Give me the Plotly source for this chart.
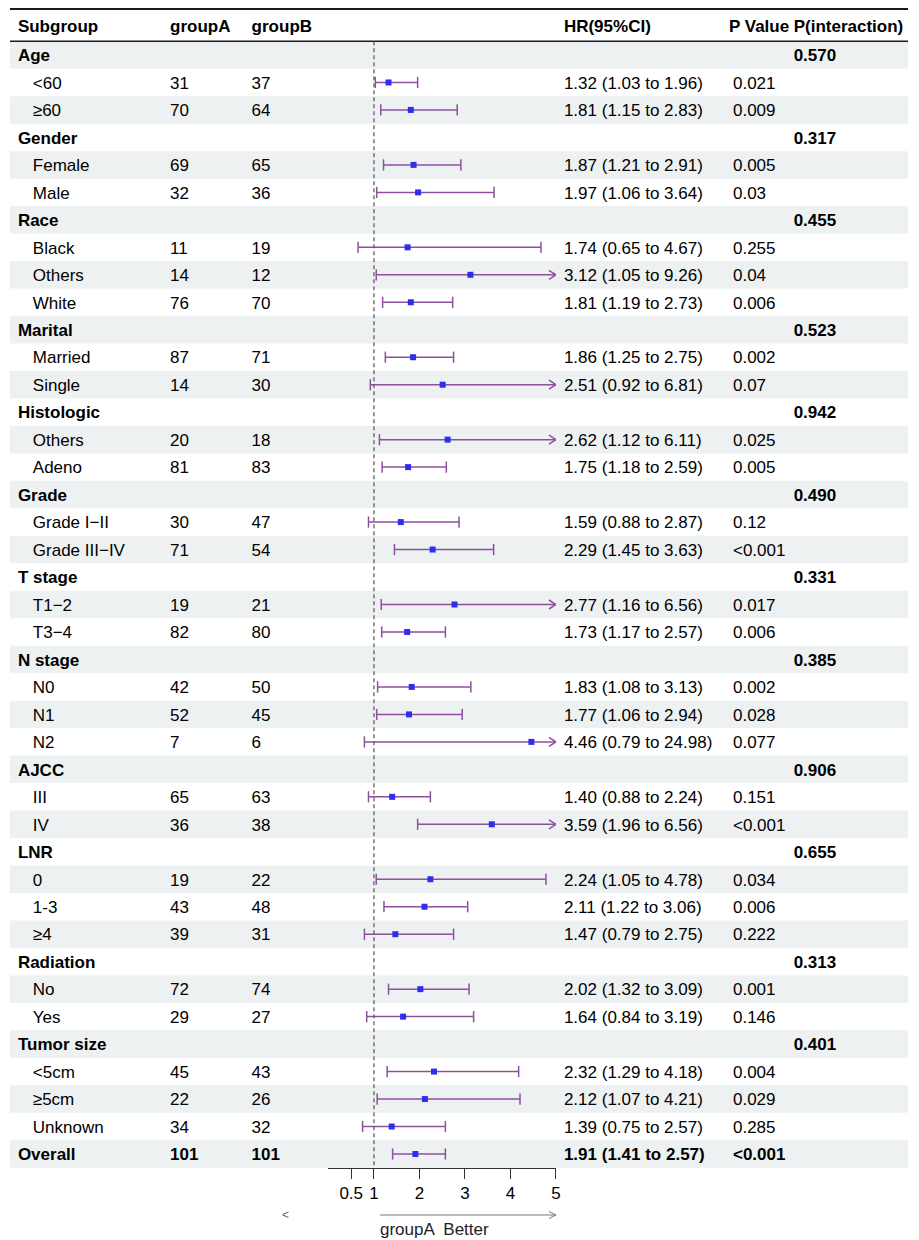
import plotly.graph_objects as go

# ---------------- data ----------------
subgroups = ["Age", "<60", "≥60", "Gender", "Female", "Male", "Race", "Black", "Others", "White",
             "Marital", "Married", "Single", "Histologic", "Others", "Adeno", "Grade", "Grade I−II",
             "Grade III−IV", "T stage", "T1−2", "T3−4", "N stage", "N0", "N1", "N2", "AJCC", "III",
             "IV", "LNR", "0", "1-3", "≥4", "Radiation", "No", "Yes", "Tumor size", "<5cm", "≥5cm",
             "Unknown", "Overall"]
groupA = [None, 31, 70, None, 69, 32, None, 11, 14, 76, None, 87, 14, None, 20, 81, None, 30, 71,
          None, 19, 82, None, 42, 52, 7, None, 65, 36, None, 19, 43, 39, None, 72, 29, None, 45, 22,
          34, 101]
groupB = [None, 37, 64, None, 65, 36, None, 19, 12, 70, None, 71, 30, None, 18, 83, None, 47, 54,
          None, 21, 80, None, 50, 45, 6, None, 63, 38, None, 22, 48, 31, None, 74, 27, None, 43, 26,
          32, 101]
hr = [None, 1.32, 1.81, None, 1.87, 1.97, None, 1.74, 3.12, 1.81, None, 1.86, 2.51, None, 2.62, 1.75,
      None, 1.59, 2.29, None, 2.77, 1.73, None, 1.83, 1.77, 4.46, None, 1.40, 3.59, None, 2.24, 2.11,
      1.47, None, 2.02, 1.64, None, 2.32, 2.12, 1.39, 1.91]
lower = [None, 1.03, 1.15, None, 1.21, 1.06, None, 0.65, 1.05, 1.19, None, 1.25, 0.92, None, 1.12,
         1.18, None, 0.88, 1.45, None, 1.16, 1.17, None, 1.08, 1.06, 0.79, None, 0.88, 1.96, None,
         1.05, 1.22, 0.79, None, 1.32, 0.84, None, 1.29, 1.07, 0.75, 1.41]
upper = [None, 1.96, 2.83, None, 2.91, 3.64, None, 4.67, 9.26, 2.73, None, 2.75, 6.81, None, 6.11,
         2.59, None, 2.87, 3.63, None, 6.56, 2.57, None, 3.13, 2.94, 24.98, None, 2.24, 6.56, None,
         4.78, 3.06, 2.75, None, 3.09, 3.19, None, 4.18, 4.21, 2.57, 2.57]
pvalue = ["", "0.021", "0.009", "", "0.005", "0.03", "", "0.255", "0.04", "0.006", "", "0.002", "0.07",
          "", "0.025", "0.005", "", "0.12", "<0.001", "", "0.017", "0.006", "", "0.002", "0.028",
          "0.077", "", "0.151", "<0.001", "", "0.034", "0.006", "0.222", "", "0.001", "0.146", "",
          "0.004", "0.029", "0.285", "<0.001"]
p_interaction = ["0.570", "", "", "0.317", "", "", "0.455", "", "", "", "0.523", "", "", "0.942", "",
                 "", "0.490", "", "", "0.331", "", "", "0.385", "", "", "", "0.906", "", "", "0.655",
                 "", "", "", "0.313", "", "", "0.401", "", "", "", ""]
column_headers = ["Subgroup", "groupA", "groupB", "HR(95%CI)", "P Value", "P(interaction)"]
tick_values = [0.5, 1, 2, 3, 4, 5]
tick_labels = ["0.5", "1", "2", "3", "4", "5"]
x_max = 5
right_label = "groupA  Better"

# ---------------- style / layout (screen pixel targets) ----------------
W, H = 919, 1240
FONT = "Liberation Sans, Arial, Helvetica, sans-serif"
FS = 17
BAND = "#EEF1F2"
PURPLE = "#8E4F9F"
BLUE = "#2E2EF0"
ROW0_PX, ROW_H = 55.0, 27.475          # pixel centre of first row, row height
X0_PX, X5_PX = 330.25, 559.0           # forest axis pixel extent (0 .. 5)
col_px = [18, 171, 253, 567, 737, 798]
header_px = [18, 171, 253, 567, 733, 798]
indent_px = 33
table_left, table_right = 10, 913
TEXT_DY = 2.0                           # text sits slightly below row centre

n = len(subgroups)
rows = list(range(n))


def row_of(px):
    return (px - ROW0_PX) / ROW_H


def paper_x(px):
    return px / W


is_header = [a is None for a in groupA]
is_bold = [h or i == n - 1 for i, h in enumerate(is_header)]


def fmt(s, bold):
    return f"<b>{s}</b>" if bold else s


fig = go.Figure()

# background bands
shapes = []
for r in rows:
    if r % 2 == 0:
        shapes.append(dict(type="rect", xref="paper", yref="y", x0=paper_x(table_left),
                           x1=paper_x(table_right), y0=r - 0.5, y1=r + 0.5, fillcolor=BAND,
                           line=dict(width=0), layer="below"))
# top rule and header rule
shapes.append(dict(type="line", xref="paper", yref="y", x0=paper_x(table_left),
                   x1=paper_x(table_right), y0=row_of(9), y1=row_of(9),
                   line=dict(color="#1a1a1a", width=2)))
shapes.append(dict(type="line", xref="paper", yref="y", x0=paper_x(table_left),
                   x1=paper_x(table_right), y0=-0.5, y1=-0.5, line=dict(color="#1a1a1a", width=1.5)))
# reference line at HR = 1
shapes.append(dict(type="line", xref="x", yref="y", x0=1, x1=1, y0=-0.5, y1=n - 0.5,
                   line=dict(color="#555555", width=1.2, dash="4px,3px")))

# ---------------- table text ----------------
ty = TEXT_DY / ROW_H
header_y = row_of(25.5) + ty
fig.add_trace(go.Scatter(
    x=header_px, y=[header_y] * len(column_headers), xaxis="x2", yaxis="y",
    mode="text", text=[f"<b>{h}</b>" for h in column_headers], textposition="middle right",
    textfont=dict(family=FONT, size=FS, color="#000"), hoverinfo="skip", showlegend=False,
    cliponaxis=False))

col_texts = [
    [fmt(s, is_bold[i]) for i, s in enumerate(subgroups)],
    [fmt(str(v), is_bold[i]) if v is not None else "" for i, v in enumerate(groupA)],
    [fmt(str(v), is_bold[i]) if v is not None else "" for i, v in enumerate(groupB)],
    [fmt(f"{hr[i]:.2f} ({lower[i]:.2f} to {upper[i]:.2f})", is_bold[i]) if hr[i] is not None else ""
     for i in rows],
    [fmt(p, is_bold[i]) for i, p in enumerate(pvalue)],
    [fmt(p, True) for p in p_interaction],
]
for c, texts in enumerate(col_texts):
    if c == 0:
        xs = [col_px[0] if is_bold[i] else indent_px for i in rows]
    else:
        xs = [col_px[c]] * n
    fig.add_trace(go.Scatter(
        x=xs, y=[r + ty for r in rows], xaxis="x2", yaxis="y", mode="text", text=texts,
        textposition="middle right", textfont=dict(family=FONT, size=FS, color="#000"),
        hoverinfo="skip", showlegend=False, cliponaxis=False))

# ---------------- forest marks ----------------
px_per_unit = (X5_PX - X0_PX) / x_max
dx_arrow = 7 / px_per_unit
dy_arrow = 4.5 / ROW_H

line_x, line_y, cap_x, cap_y, arr_x, arr_y = [], [], [], [], [], []
for r in rows:
    if hr[r] is None:
        continue
    hi = min(upper[r], x_max)
    line_x += [lower[r], hi, None]
    line_y += [r, r, None]
    cap_x.append(lower[r]); cap_y.append(r)
    if upper[r] <= x_max:
        cap_x.append(upper[r]); cap_y.append(r)
    else:
        arr_x += [x_max - dx_arrow, x_max, x_max - dx_arrow, None]
        arr_y += [r - dy_arrow, r, r + dy_arrow, None]

fig.add_trace(go.Scatter(x=line_x, y=line_y, mode="lines", line=dict(color=PURPLE, width=1.5),
                         hoverinfo="skip", showlegend=False, cliponaxis=False))
fig.add_trace(go.Scatter(x=arr_x, y=arr_y, mode="lines", line=dict(color=PURPLE, width=1.5),
                         hoverinfo="skip", showlegend=False, cliponaxis=False))
fig.add_trace(go.Scatter(x=cap_x, y=cap_y, mode="markers",
                         marker=dict(symbol="line-ns", size=8, line=dict(color=PURPLE, width=1.5)),
                         hoverinfo="skip", showlegend=False, cliponaxis=False))
fig.add_trace(go.Scatter(x=[hr[r] for r in rows if hr[r] is not None],
                         y=[r for r in rows if hr[r] is not None], mode="markers",
                         marker=dict(symbol="square", size=6, color=BLUE),
                         hoverinfo="skip", showlegend=False, cliponaxis=False))

# direction arrow under the axis
arrow_y = row_of(1215)
arrow_start = 1.13
fig.add_trace(go.Scatter(
    x=[arrow_start, x_max, None, x_max - dx_arrow, x_max, x_max - dx_arrow],
    y=[arrow_y, arrow_y, None, arrow_y - 3.5 / ROW_H, arrow_y, arrow_y + 3.5 / ROW_H],
    mode="lines", line=dict(color="#777777", width=1), hoverinfo="skip", showlegend=False,
    cliponaxis=False))

annotations = [
    dict(xref="x", yref="y", x=arrow_start, y=row_of(1229), text=right_label, showarrow=False,
         xanchor="left", yanchor="middle", xshift=-2, font=dict(family=FONT, size=FS, color="#222")),
    dict(xref="paper", yref="y", x=paper_x(287), y=arrow_y, text="&lt;", showarrow=False,
         xanchor="center", yanchor="middle", font=dict(family=FONT, size=12, color="#666")),
]

axis_bottom_px = (n - 0.5) * ROW_H + ROW0_PX
fig.update_layout(
    width=W, height=H, margin=dict(l=0, r=0, t=0, b=0),
    paper_bgcolor="white", plot_bgcolor="rgba(0,0,0,0)",
    shapes=shapes, annotations=annotations,
    font=dict(family=FONT, size=FS, color="#000"),
    xaxis=dict(domain=[paper_x(X0_PX), paper_x(X5_PX)], range=[0, x_max], anchor="free",
               position=1 - axis_bottom_px / H, showline=True, linecolor="#333",
               linewidth=1, ticks="outside", ticklen=10, tickwidth=1, tickcolor="#333",
               tickvals=tick_values, ticktext=tick_labels, showgrid=False, zeroline=False,
               tickfont=dict(family=FONT, size=FS, color="#000")),
    xaxis2=dict(domain=[0, 1], range=[0, W], visible=False, anchor="y"),
    yaxis=dict(domain=[0, 1], range=[row_of(H), row_of(0)], visible=False),
)

fig.write_html("out.html", config={"displayModeBar": False},
               post_script="document.body.style.margin='0';document.body.style.overflow='hidden';")
